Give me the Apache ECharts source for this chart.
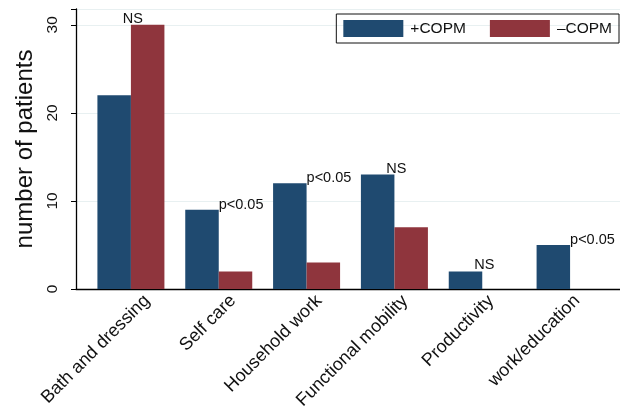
<!DOCTYPE html>
<html>
<head>
<meta charset="utf-8">
<script src="https://cdn.jsdelivr.net/npm/echarts@6/dist/echarts.min.js"></script>
<style>
  html, body { margin: 0; padding: 0; background: #fff; }
  #chart { width: 620px; height: 414px; }
</style>
</head>
<body>
<div id="chart"></div>
<script>
// Activity domains and patient counts per group
const categories = ['Bath and dressing', 'Self care', 'Household work', 'Functional mobility', 'Productivity', 'work/education'];
const withCopm = [22, 9, 12, 13, 2, 5];
const withoutCopm = [30, 2, 3, 7, 0, 0];
const significance = ['NS', 'p<0.05', 'p<0.05', 'NS', 'NS', 'p<0.05'];
const yTicks = [0, 10, 20, 30];

const FONT = '"Liberation Sans", Arial, Helvetica, sans-serif';
const BLUE = '#1f4a70';
const RED = '#8f353d';

// Significance mark sits at the top of the taller bar of each pair,
// anchored on the boundary between the two bars
function sigLabel(text, onRightEdge) {
  const isNS = text === 'NS';
  return {
    show: true,
    formatter: text,
    position: [onRightEdge ? '100%' : '0%', isNS ? -6 : -5],
    offset: isNS ? [2, 0] : [0, 0],
    align: isNS ? 'center' : 'left',
    verticalAlign: 'middle',
    color: '#111',
    fontFamily: FONT,
    fontSize: 14.5
  };
}

const blueData = withCopm.map((v, i) =>
  v >= withoutCopm[i] ? { value: v, label: sigLabel(significance[i], true) } : { value: v });
const redData = withoutCopm.map((v, i) =>
  v > withCopm[i] ? { value: v, label: sigLabel(significance[i], false) } : { value: v });

const chart = echarts.init(document.getElementById('chart'), null, { renderer: 'canvas' });

const yMax = 31.8;
const plotTop = 9;
const plotBottom = 125;

chart.setOption({
  animation: false,
  backgroundColor: '#fff',
  textStyle: { fontFamily: FONT },
  grid: [
    { left: 76, right: 0, top: plotTop, bottom: plotBottom },
    { left: 87, width: 527, top: plotTop, bottom: plotBottom },
    { left: 104, width: 527, top: plotTop, bottom: plotBottom }
  ],
  legend: {
    data: ['+COPM', '\u2013COPM'],
    right: 1,
    top: 14,
    itemWidth: 60,
    itemHeight: 17,
    itemGap: 24,
    padding: [6, 7, 6, 7],
    borderColor: '#111',
    borderWidth: 1,
    icon: 'rect',
    textStyle: { fontFamily: FONT, fontSize: 15.5, color: '#111', padding: [0, 0, 0, 2] }
  },
  xAxis: [
    {
      gridIndex: 0,
      type: 'value',
      min: 0,
      max: 1,
      axisLine: { show: true, lineStyle: { color: '#000', width: 1.3 } },
      axisTick: { show: false },
      axisLabel: { show: false },
      splitLine: { show: false }
    },
    {
      gridIndex: 1,
      type: 'category',
      data: categories,
      boundaryGap: true,
      axisLine: { show: false },
      axisTick: { show: false },
      axisLabel: { show: false }
    },
    {
      // category names, angled under their bar pairs
      gridIndex: 2,
      type: 'category',
      data: categories,
      boundaryGap: true,
      axisLine: { show: false },
      axisTick: { show: false },
      axisLabel: {
        rotate: 45,
        interval: 0,
        margin: 9,
        color: '#111',
        fontFamily: FONT,
        fontSize: 18
      }
    }
  ],
  yAxis: [
    {
      gridIndex: 0,
      type: 'value',
      min: 0,
      max: yMax,
      interval: 10,
      name: 'number of patients',
      nameLocation: 'middle',
      nameRotate: 90,
      nameGap: 39,
      nameTextStyle: { fontFamily: FONT, fontSize: 24, color: '#111' },
      axisLine: { show: true, lineStyle: { color: '#000', width: 1.3 } },
      axisTick: { show: true, length: 5, lineStyle: { color: '#000' } },
      axisLabel: {
        rotate: 90,
        margin: 15,
        color: '#111',
        fontFamily: FONT,
        fontSize: 15.5,
        formatter: v => (yTicks.indexOf(v) >= 0 ? String(v) : '')
      },
      splitLine: { show: true, lineStyle: { color: '#e8f0f1', width: 1.2 } }
    },
    { gridIndex: 1, type: 'value', min: 0, max: yMax, show: false, splitLine: { show: false } },
    { gridIndex: 2, type: 'value', min: 0, max: yMax, show: false, splitLine: { show: false } }
  ],
  series: [
    {
      name: '+COPM',
      type: 'bar',
      xAxisIndex: 1,
      yAxisIndex: 1,
      barWidth: 33.5,
      barGap: '0%',
      itemStyle: { color: BLUE },
      data: blueData
    },
    {
      name: '\u2013COPM',
      type: 'bar',
      xAxisIndex: 1,
      yAxisIndex: 1,
      barWidth: 33.5,
      barGap: '0%',
      itemStyle: { color: RED },
      data: redData
    }
  ]
});
</script>
</body>
</html>
